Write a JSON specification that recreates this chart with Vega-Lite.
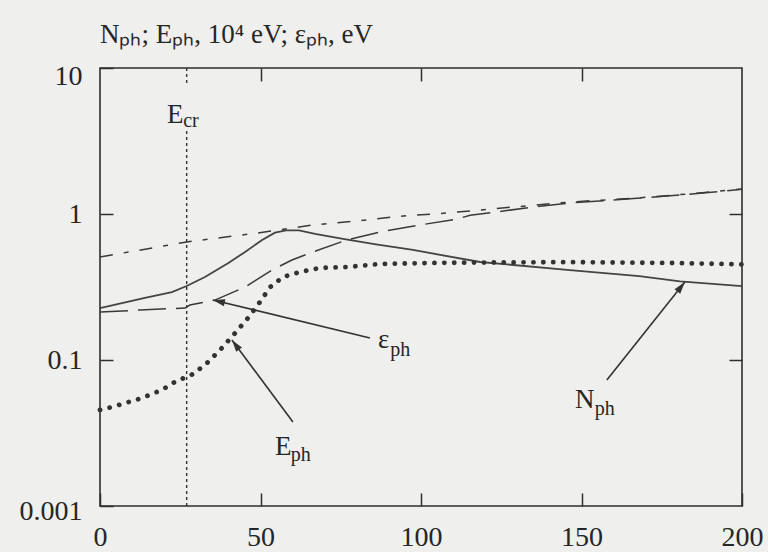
{
  "$schema": "https://vega.github.io/schema/vega-lite/v6.json",
  "width": 642,
  "height": 438,
  "autosize": {"type": "none"},
  "padding": {"left": 100, "top": 68, "right": 26, "bottom": 46},
  "background": "#efefed",
  "config": {
    "view": {"stroke": "#2e2e2e", "strokeWidth": 1.6},
    "font": "Liberation Serif",
    "text": {"font": "Liberation Serif", "color": "#262626"}
  },
  "title": {
    "text": "Nₚₕ; Eₚₕ, 10⁴ eV; εₚₕ, eV",
    "anchor": "start",
    "frame": "group",
    "font": "Liberation Serif",
    "fontSize": 27,
    "fontWeight": "normal",
    "color": "#262626",
    "baseline": "alphabetic",
    "offset": -8
  },
  "datasets": {
    "nph": [
      {"x": 0, "y": 0.227}, {"x": 14, "y": 0.266}, {"x": 22.4, "y": 0.292}, {"x": 27, "y": 0.321},
      {"x": 32.7, "y": 0.37}, {"x": 40, "y": 0.462}, {"x": 45.2, "y": 0.55}, {"x": 50.5, "y": 0.664},
      {"x": 54.5, "y": 0.745}, {"x": 58, "y": 0.772}, {"x": 62, "y": 0.772}, {"x": 67, "y": 0.73},
      {"x": 75.7, "y": 0.675}, {"x": 86, "y": 0.62}, {"x": 97.5, "y": 0.567}, {"x": 118.4, "y": 0.469},
      {"x": 146.4, "y": 0.413}, {"x": 168, "y": 0.376}, {"x": 180.7, "y": 0.345}, {"x": 200, "y": 0.321}
    ],
    "upper": [
      {"x": 0, "y": 0.508}, {"x": 27, "y": 0.643}, {"x": 49.2, "y": 0.741}, {"x": 66.4, "y": 0.841},
      {"x": 81, "y": 0.9}, {"x": 93.5, "y": 0.965}, {"x": 108.1, "y": 1.016}, {"x": 118.4, "y": 1.065},
      {"x": 146.4, "y": 1.208}, {"x": 167.3, "y": 1.287}, {"x": 186.9, "y": 1.393}, {"x": 200, "y": 1.483}
    ],
    "eps": [
      {"x": 0, "y": 0.213}, {"x": 12.5, "y": 0.22}, {"x": 26.5, "y": 0.227}, {"x": 28, "y": 0.238},
      {"x": 35.8, "y": 0.257}, {"x": 45.2, "y": 0.316}, {"x": 53.6, "y": 0.4135}, {"x": 59.8, "y": 0.484},
      {"x": 66.4, "y": 0.55}, {"x": 76.9, "y": 0.664}, {"x": 87.2, "y": 0.753}, {"x": 99.7, "y": 0.841},
      {"x": 111.2, "y": 0.924}, {"x": 115.3, "y": 0.98}, {"x": 137, "y": 1.13}, {"x": 146.4, "y": 1.19},
      {"x": 167.3, "y": 1.28}, {"x": 186.9, "y": 1.385}, {"x": 200, "y": 1.475}
    ],
    "eph": [
      {"x": 0, "y": 0.0455}, {"x": 3.7, "y": 0.0476}, {"x": 13.1, "y": 0.0549}, {"x": 19.3, "y": 0.0624},
      {"x": 24.3, "y": 0.0729}, {"x": 28, "y": 0.0777}, {"x": 32.7, "y": 0.0924}, {"x": 37.4, "y": 0.117},
      {"x": 42.1, "y": 0.153}, {"x": 46.1, "y": 0.194}, {"x": 49.8, "y": 0.249}, {"x": 53, "y": 0.316},
      {"x": 57, "y": 0.37}, {"x": 62.3, "y": 0.401}, {"x": 68.5, "y": 0.427}, {"x": 76.9, "y": 0.4335},
      {"x": 87.2, "y": 0.4545}, {"x": 102.8, "y": 0.462}, {"x": 118.4, "y": 0.465}, {"x": 146.4, "y": 0.468},
      {"x": 177.6, "y": 0.462}, {"x": 200, "y": 0.452}
    ],
    "ecr": [
      {"x": 27, "y": 10, "y2": 7.9},
      {"x": 27, "y": 3.7, "y2": 0.01}
    ],
    "arrows": [
      {"name": "eps", "x": 84.1, "y": 0.1415, "x2": 35.2, "y2": 0.2576},
      {"name": "eph", "x": 60.1, "y": 0.0376, "x2": 41.1, "y2": 0.1371},
      {"name": "nph", "x": 157.9, "y": 0.0729, "x2": 182.2, "y2": 0.342}
    ],
    "labels": [
      {"t": "E", "x": 20.9, "y": 4.2},
      {"t": "ε", "x": 86.6, "y": 0.1208},
      {"t": "E", "x": 54.5, "y": 0.02234},
      {"t": "N", "x": 148, "y": 0.0469}
    ],
    "subs": [
      {"t": "cr", "x": 25.9, "y": 3.95},
      {"t": "ph", "x": 90.4, "y": 0.1064},
      {"t": "ph", "x": 59.4, "y": 0.0203},
      {"t": "ph", "x": 154.1, "y": 0.042}
    ]
  },
  "resolve": {"axis": {"x": "independent", "y": "independent"}},
  "layer": [
    {
      "data": {"name": "nph"},
      "mark": {"type": "line", "color": "#444444", "strokeWidth": 1.8},
      "encoding": {
        "x": {
          "field": "x", "type": "quantitative",
          "scale": {"domain": [0, 200], "nice": false, "zero": false},
          "axis": {
            "orient": "bottom", "values": [0, 50, 100, 150, 200], "title": null, "grid": false, "domain": false,
            "tickSize": -13, "tickWidth": 1.5, "tickColor": "#2e2e2e", "labelPadding": 44,
            "labelBaseline": "middle", "labelFlush": false, "labelFont": "Liberation Serif",
            "labelFontSize": 28, "labelColor": "#262626"
          }
        },
        "y": {
          "field": "y", "type": "quantitative",
          "scale": {"type": "log", "domain": [0.01, 10], "nice": false},
          "axis": {
            "orient": "left", "values": [0.01, 0.1, 1, 10], "title": null, "grid": false, "domain": false,
            "tickSize": -13, "tickWidth": 1.5, "tickColor": "#2e2e2e", "labelPadding": 31,
            "labelBaseline": "middle", "labelFlush": false, "labelFont": "Liberation Serif",
            "labelFontSize": 28, "labelColor": "#262626",
            "labelExpr": "datum.value < 0.05 ? '0.001' : datum.value < 0.5 ? '0.1' : datum.value < 5 ? '1' : '10'",
            "labelOffset": {"condition": [{"test": "datum.value > 5", "value": 8}, {"test": "datum.value < 0.05", "value": 5}], "value": 0}
          }
        }
      }
    },
    {
      "data": {"name": "ecr"},
      "mark": {"type": "rule", "color": "#333333", "strokeWidth": 1.4, "strokeDash": [3, 3]},
      "encoding": {
        "x": {
          "field": "x", "type": "quantitative",
          "axis": {
            "orient": "top", "values": [50, 100, 150], "title": null, "grid": false, "domain": false,
            "labels": false, "tickSize": -13, "tickWidth": 1.5, "tickColor": "#2e2e2e"
          }
        },
        "y": {
          "field": "y", "type": "quantitative",
          "axis": {
            "orient": "right", "values": [0.1, 1], "title": null, "grid": false, "domain": false,
            "labels": false, "tickSize": -13, "tickWidth": 1.5, "tickColor": "#2e2e2e"
          }
        },
        "y2": {"field": "y2"}
      }
    },
    {
      "data": {"name": "upper"},
      "mark": {"type": "line", "color": "#3a3a3a", "strokeWidth": 1.5, "strokeDash": [13, 11, 5, 11]},
      "encoding": {
        "x": {"field": "x", "type": "quantitative", "axis": null},
        "y": {"field": "y", "type": "quantitative", "axis": null}
      }
    },
    {
      "data": {"name": "eps"},
      "mark": {"type": "line", "color": "#3a3a3a", "strokeWidth": 1.5, "strokeDash": [28, 10]},
      "encoding": {
        "x": {"field": "x", "type": "quantitative", "axis": null},
        "y": {"field": "y", "type": "quantitative", "axis": null}
      }
    },
    {
      "data": {"name": "eph"},
      "mark": {"type": "line", "color": "#333333", "strokeWidth": 4.8, "strokeCap": "round", "strokeDash": [0.1, 9.8]},
      "encoding": {
        "x": {"field": "x", "type": "quantitative", "axis": null},
        "y": {"field": "y", "type": "quantitative", "axis": null}
      }
    },
    {
      "data": {"name": "arrows"},
      "mark": {"type": "rule", "color": "#333333", "strokeWidth": 1.6},
      "encoding": {
        "x": {"field": "x", "type": "quantitative", "axis": null},
        "y": {"field": "y", "type": "quantitative", "axis": null},
        "x2": {"field": "x2"},
        "y2": {"field": "y2"}
      }
    },
    {
      "data": {"name": "arrows"},
      "transform": [{"filter": "datum.name == 'eps'"}],
      "mark": {"type": "point", "shape": "M0,0L-0.3,1L0.3,1Z", "filled": true, "color": "#333333", "opacity": 1, "size": 576, "angle": 283.6},
      "encoding": {
        "x": {"field": "x2", "type": "quantitative", "axis": null},
        "y": {"field": "y2", "type": "quantitative", "axis": null}
      }
    },
    {
      "data": {"name": "arrows"},
      "transform": [{"filter": "datum.name == 'eph'"}],
      "mark": {"type": "point", "shape": "M0,0L-0.3,1L0.3,1Z", "filled": true, "color": "#333333", "opacity": 1, "size": 576, "angle": 323.4},
      "encoding": {
        "x": {"field": "x2", "type": "quantitative", "axis": null},
        "y": {"field": "y2", "type": "quantitative", "axis": null}
      }
    },
    {
      "data": {"name": "arrows"},
      "transform": [{"filter": "datum.name == 'nph'"}],
      "mark": {"type": "point", "shape": "M0,0L-0.3,1L0.3,1Z", "filled": true, "color": "#333333", "opacity": 1, "size": 576, "angle": 38.5},
      "encoding": {
        "x": {"field": "x2", "type": "quantitative", "axis": null},
        "y": {"field": "y2", "type": "quantitative", "axis": null}
      }
    },
    {
      "data": {"name": "labels"},
      "mark": {"type": "text", "align": "left", "baseline": "alphabetic", "fontSize": 27, "font": "Liberation Serif", "color": "#262626"},
      "encoding": {
        "x": {"field": "x", "type": "quantitative", "axis": null},
        "y": {"field": "y", "type": "quantitative", "axis": null},
        "text": {"field": "t"}
      }
    },
    {
      "data": {"name": "subs"},
      "mark": {"type": "text", "align": "left", "baseline": "alphabetic", "fontSize": 20, "font": "Liberation Serif", "color": "#262626"},
      "encoding": {
        "x": {"field": "x", "type": "quantitative", "axis": null},
        "y": {"field": "y", "type": "quantitative", "axis": null},
        "text": {"field": "t"}
      }
    }
  ]
}
